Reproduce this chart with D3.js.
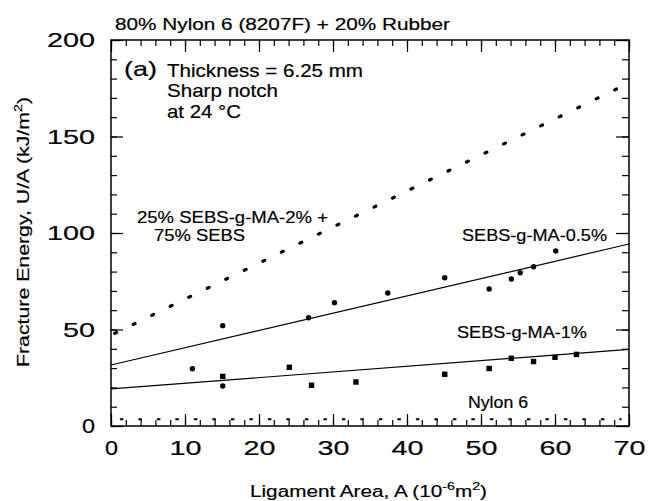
<!DOCTYPE html>
<html>
<head>
<meta charset="utf-8">
<script src="https://cdn.jsdelivr.net/npm/d3@7"></script>
<style>
  html, body { margin: 0; padding: 0; background: #fff; }
  text { font-family: "Liberation Sans", Arial, Helvetica, sans-serif; fill: #000; stroke: #000; stroke-width: 0.2px; }
</style>
</head>
<body>
<svg id="chart"></svg>
<script>
// values
const xTicks = [0, 10, 20, 30, 40, 50, 60, 70];
const yTicks = [0, 50, 100, 150, 200];

// SEBS-g-MA-0.5% (circles)
const sebs05 = [[11.0, 29.7], [15.1, 20.7], [15.1, 52.0], [26.7, 56.1], [30.2, 63.9], [37.4, 68.9],
  [45.1, 76.8], [51.1, 71.0], [54.1, 76.2], [55.3, 79.4], [57.1, 82.5], [60.1, 90.7]];
// SEBS-g-MA-1% (squares)
const sebs1 = [[15.1, 25.7], [24.1, 30.4], [27.1, 21.1], [33.1, 22.8], [45.1, 26.8], [51.1, 29.8],
  [54.1, 35.1], [57.1, 33.4], [60.0, 35.6], [62.9, 37.1]];

// fitted lines (end points)
const fit05 = [[0, 31.6], [70, 94.3]];
const fit1 = [[0, 19.2], [70, 39.7]];
const blendLine = [[0.5, 48], [68.3, 174.6]];   // 25% SEBS-g-MA-2% + 75% SEBS, dotted
const nylonLine = [[1.2, 3.5], [69, 3.5]];      // Nylon 6, dotted

const width = 649, height = 501;
const svg = d3.select('#chart').attr('width', width).attr('height', height);

// plot frame
const x = d3.scaleLinear().domain([0, 70]).range([111, 629]);
const y = d3.scaleLinear().domain([0, 200]).range([426, 40]);

// helper for stretched text (the original font runs wider than Arial)
const label = (g, px, py, str, size, len, anchor) => {
  const t = g.append('text')
    .attr('x', px).attr('y', py)
    .attr('font-size', size)
    .attr('text-anchor', anchor || 'start')
    .text(str);
  if (len) t.attr('textLength', len).attr('lengthAdjust', 'spacingAndGlyphs');
  return t;
};

const minorX = d3.range(0, 71, 2);
const minorY = d3.range(0, 201, 10);

// axes, ticks pointing inwards on all four sides
const bottom = svg.append('g').attr('transform', `translate(0,${y(0)})`)
  .call(d3.axisBottom(x).tickValues(xTicks).tickSize(-12).tickPadding(14));
svg.append('g').attr('transform', `translate(0,${y(0)})`)
  .call(d3.axisBottom(x).tickValues(minorX).tickSize(-6).tickFormat(''));
svg.append('g').attr('transform', `translate(0,${y(200)})`)
  .call(d3.axisTop(x).tickValues(xTicks).tickSize(-12).tickFormat(''));
svg.append('g').attr('transform', `translate(0,${y(200)})`)
  .call(d3.axisTop(x).tickValues(minorX).tickSize(-6).tickFormat(''));
const left = svg.append('g').attr('transform', `translate(${x(0)},0)`)
  .call(d3.axisLeft(y).tickValues(yTicks).tickSize(-12).tickPadding(16));
svg.append('g').attr('transform', `translate(${x(0)},0)`)
  .call(d3.axisLeft(y).tickValues(minorY).tickSize(-6).tickFormat(''));
svg.append('g').attr('transform', `translate(${x(70)},0)`)
  .call(d3.axisRight(y).tickValues(yTicks).tickSize(-13).tickFormat(''));
svg.append('g').attr('transform', `translate(${x(70)},0)`)
  .call(d3.axisRight(y).tickValues(minorY).tickSize(-7).tickFormat(''));

svg.selectAll('.domain').remove();
svg.selectAll('.tick line').attr('stroke', '#000').attr('stroke-width', 1.2);

// tick labels: big, widely set digits
[bottom, left].forEach(g => {
  g.selectAll('.tick text')
    .attr('font-size', 21)
    .attr('font-family', '"Liberation Sans", Arial, Helvetica, sans-serif')
    .attr('fill', '#000')
    .attr('stroke', '#000').attr('stroke-width', 0.5)
    .each(function () {
      const n = this.textContent.length;
      const len = n === 1 ? 13 : n === 2 ? 32 : 48;
      d3.select(this).attr('textLength', len).attr('lengthAdjust', 'spacingAndGlyphs');
    });
});

svg.append('rect')
  .attr('x', x(0)).attr('y', y(200))
  .attr('width', x(70) - x(0)).attr('height', y(0) - y(200))
  .attr('fill', 'none').attr('stroke', '#000').attr('stroke-width', 1.5);

const line = d3.line().x(d => x(d[0])).y(d => y(d[1]));

// fitted solid lines
[fit05, fit1].forEach(d => {
  svg.append('path').datum(d).attr('d', line)
    .attr('fill', 'none').attr('stroke', '#000').attr('stroke-width', 1.2);
});

// dotted lines
svg.append('path').datum(blendLine).attr('d', line)
  .attr('fill', 'none').attr('stroke', '#000').attr('stroke-width', 3.2)
  .attr('stroke-linecap', 'round').attr('stroke-dasharray', '2 18.6');
svg.append('path').datum(nylonLine).attr('d', line)
  .attr('fill', 'none').attr('stroke', '#000').attr('stroke-width', 2)
  .attr('stroke-dasharray', '3.5 15');

// points
svg.append('g').selectAll('circle').data(sebs05).enter().append('circle')
  .attr('cx', d => x(d[0])).attr('cy', d => y(d[1])).attr('r', 2.7).attr('fill', '#000');
svg.append('g').selectAll('rect').data(sebs1).enter().append('rect')
  .attr('x', d => x(d[0]) - 2.7).attr('y', d => y(d[1]) - 2.7)
  .attr('width', 5.4).attr('height', 5.4).attr('fill', '#000');

// annotations
label(svg, 115, 30, '80% Nylon 6 (8207F) + 20% Rubber', 17, 335);
label(svg, 124, 76, '(a)', 21, 33);
label(svg, 167, 77, 'Thickness = 6.25 mm', 18.5, 196);
label(svg, 167, 97, 'Sharp notch', 18.5, 111);
label(svg, 167, 118, 'at 24 \u00B0C', 18.5, 74);
label(svg, 137, 223, '25% SEBS-g-MA-2% +', 16.5, 191);
label(svg, 154, 241, '75% SEBS', 16.5, 91);
label(svg, 462, 241, 'SEBS-g-MA-0.5%', 17, 145);
label(svg, 457, 338, 'SEBS-g-MA-1%', 17, 130);
label(svg, 468, 408, 'Nylon 6', 16.5, 60);

// axis titles
const xt = svg.append('text')
  .attr('x', 368.5).attr('y', 497)
  .attr('font-size', 16).attr('text-anchor', 'middle')
  .attr('textLength', 237).attr('lengthAdjust', 'spacingAndGlyphs');
xt.append('tspan').text('Ligament Area, A (10');
xt.append('tspan').attr('dy', -7).attr('font-size', 11).text('-6');
xt.append('tspan').attr('dy', 7).text('m');
xt.append('tspan').attr('dy', -7).attr('font-size', 11).text('2');
xt.append('tspan').attr('dy', 7).text(')');

const yt = svg.append('text')
  .attr('transform', 'translate(29,232) rotate(-90)')
  .attr('font-size', 16.5).attr('text-anchor', 'middle')
  .attr('textLength', 270).attr('lengthAdjust', 'spacingAndGlyphs');
yt.append('tspan').text('Fracture Energy, U/A (kJ/m');
yt.append('tspan').attr('dy', -7).attr('font-size', 11).text('2');
yt.append('tspan').attr('dy', 7).text(')');
</script>
</body>
</html>
